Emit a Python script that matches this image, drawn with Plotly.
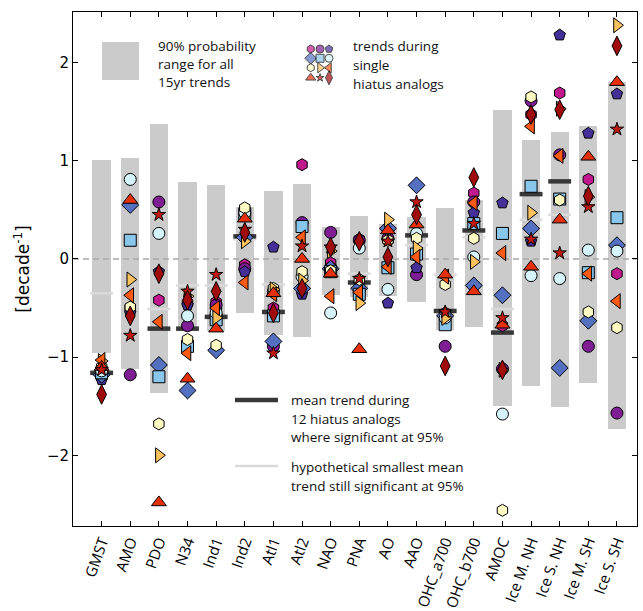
import plotly.graph_objects as go

categories = ["GMST", "AMO", "PDO", "N34", "Ind1", "Ind2", "Atl1", "Atl2", "NAO", "PNA",
              "AO", "AAO", "OHC_a700", "OHC_b700", "AMOC", "Ice M. NH", "Ice S. NH",
              "Ice M. SH", "Ice S. SH"]

# 90% probability range of all 15yr trends
range_low = [-0.96, -1.12, -1.37, -0.73, -0.73, -0.55, -0.77, -0.80, -0.37, -0.39,
             -0.38, -0.44, -0.72, -0.69, -1.50, -1.29, -1.51, -1.26, -1.73]
range_high = [1.01, 1.03, 1.37, 0.78, 0.75, 0.53, 0.69, 0.76, 0.33, 0.44,
              0.36, 0.43, 0.52, 0.60, 1.52, 1.21, 1.29, 1.35, 1.80]

# mean trend during 12 hiatus analogs where significant
mean_sig = [-1.16, None, -0.71, -0.71, -0.59, 0.23, -0.54, None, None, -0.24,
            None, 0.24, -0.53, 0.29, -0.75, 0.66, 0.79, None, None]
# hypothetical smallest mean trend still significant
min_sig = [-0.35, None, -0.51, -0.27, -0.27, 0.20, -0.26, None, None, -0.15,
           None, 0.14, -0.16, 0.22, -0.51, 0.40, 0.45, None, None]

# trends during single hiatus analogs (one list per analog)
analog01 = [-1.15, -0.50, -0.42, -0.45, -0.44, -0.06, -0.50, 0.96, -0.04, 0.20,
            0.19, 0.03, -0.55, 0.67, -0.68, 1.47, 1.69, 0.81, -0.15]
analog02 = [-1.20, -1.18, 0.58, -0.68, -0.47, -0.10, -0.89, 0.37, 0.27, 0.19,
            0.21, -0.16, -0.89, 0.58, -1.12, 1.61, 1.06, -0.89, -1.57]
analog03 = [-1.23, -0.55, -0.13, -0.47, -0.52, -0.13, 0.12, -0.36, -0.08, -0.25,
            -0.45, -0.09, -0.56, 0.47, 0.57, 0.18, 2.28, 1.28, 1.68]
analog04 = [-1.18, 0.55, -1.08, -1.34, -0.93, 0.22, -0.84, -0.30, -0.10, -0.30,
            0.31, 0.75, -0.58, -0.27, -0.37, 0.31, -1.11, -0.63, 0.14]
analog05 = [-1.16, 0.19, -1.20, -0.89, -0.62, 0.46, -0.58, 0.33, -0.13, -0.36,
            -0.09, 0.05, -0.67, 0.36, 0.26, 0.74, 0.61, -0.14, 0.42]
analog06 = [-1.14, 0.81, 0.26, -0.58, -0.55, 0.47, -0.33, -0.18, -0.55, 0.11,
            -0.31, 0.26, -0.60, 0.02, -1.58, -0.17, -0.20, 0.09, 0.08]
analog07 = [-1.10, -0.49, -1.68, -0.82, -0.88, 0.52, -0.30, -0.13, -0.12, -0.21,
            0.19, 0.21, -0.26, 0.21, -2.56, 1.65, 0.60, -0.54, -0.70]
analog08 = [-1.04, -0.21, -2.00, -0.38, -0.60, 0.18, -0.31, -0.22, 0.08, -0.45,
            0.40, 0.11, -0.60, -0.03, -1.13, 0.47, 1.53, 0.63, 2.38]
analog09 = [-1.03, -0.37, -0.64, -0.96, -0.50, -0.24, -0.36, 0.22, -0.38, -0.34,
            -0.08, 0.02, -0.18, 0.57, 0.06, 1.35, 1.05, -0.15, -0.43]
analog10 = [-1.10, 0.60, -2.48, -1.22, -0.71, 0.41, -0.35, 0.00, -0.15, -0.92,
            0.29, 0.35, -0.16, -0.33, -0.67, -0.08, 0.40, 1.04, 1.80]
analog11 = [-1.13, -0.78, 0.45, -0.33, -0.16, 0.30, -0.96, 0.13, 0.12, -0.20,
            0.18, 0.58, -0.54, 0.36, -0.60, 0.20, 0.06, 0.53, 1.32]
analog12 = [-1.38, -0.58, -0.15, -0.42, -0.33, 0.27, -0.55, -0.30, 0.12, 0.18,
            0.02, 0.45, -1.09, 0.83, -1.13, 1.47, 1.52, 0.64, 2.17]

analogs = [analog01, analog02, analog03, analog04, analog05, analog06,
           analog07, analog08, analog09, analog10, analog11, analog12]
symbols = ["hexagon", "circle", "pentagon", "diamond", "square", "circle",
           "hexagon", "triangle-right", "triangle-left", "triangle-up", "star", "diamond-tall"]
colors = ["#c2188f", "#7f1d95", "#45309a", "#5470c0", "#88c6ec", "#d5f3fa",
          "#fffac2", "#fdc25e", "#ff5a14", "#e6300c", "#bf1a10", "#a00c0c"]
sizes = [12, 12, 12, 13, 12, 12, 12, 13, 13, 13, 10, 14]

xr = [-1.0, 18.7]
yr = [-2.72, 2.515]
idx = list(range(len(categories)))

fig = go.Figure()

# probability ranges
fig.add_trace(go.Bar(x=idx, y=[h - l for h, l in zip(range_high, range_low)], base=range_low,
                     width=0.64, marker=dict(color="#cbcbcb", line=dict(width=0)),
                     hoverinfo="skip", showlegend=False))

# zero line
fig.add_trace(go.Scatter(x=xr, y=[0, 0], mode="lines",
                         line=dict(color="#a8a8a8", width=1.5, dash="6px,4px"),
                         hoverinfo="skip", showlegend=False))

def bar_segments(vals, half=0.4):
    xs, ys = [], []
    for i, v in enumerate(vals):
        if v is None:
            continue
        xs += [i - half, i + half, None]
        ys += [v, v, None]
    return xs, ys

lx, ly = bar_segments(min_sig)
fig.add_trace(go.Scatter(x=lx, y=ly, mode="lines", line=dict(color="#dadada", width=2.5),
                         hoverinfo="skip", showlegend=False))
mx, my = bar_segments(mean_sig)
fig.add_trace(go.Scatter(x=mx, y=my, mode="lines", line=dict(color="#383838", width=4.5),
                         hoverinfo="skip", showlegend=False))

for vals, sym, col, sz in zip(analogs, symbols, colors, sizes):
    fig.add_trace(go.Scatter(x=idx, y=vals, mode="markers",
                             marker=dict(symbol=sym, color=col, size=sz,
                                         line=dict(color="black", width=1)),
                             showlegend=False))

# ---- legend (drawn on an overlay axis in plot-area fractions) ----
leg_cols = [0.4215, 0.438, 0.4539]
leg_rows = [0.928, 0.910, 0.8916, 0.872]
lgx, lgy = [], []
for k in range(12):
    lgx.append(leg_cols[k % 3])
    lgy.append(leg_rows[k // 3])
fig.add_trace(go.Scatter(x=lgx, y=lgy, mode="markers", xaxis="x2", yaxis="y2",
                         marker=dict(symbol=symbols, color=colors, size=[s - 4 for s in sizes],
                                     line=dict(color="black", width=1)),
                         hoverinfo="skip", showlegend=False))

shapes = [
    dict(type="rect", xref="paper", yref="paper", x0=0.0514, x1=0.117, y0=0.8677, y1=0.9416,
         fillcolor="#cbcbcb", line=dict(width=0)),
    dict(type="line", xref="paper", yref="paper", x0=0.2872, x1=0.3635, y0=0.2451, y1=0.2451,
         line=dict(color="#383838", width=4.5)),
    dict(type="line", xref="paper", yref="paper", x0=0.2872, x1=0.3635, y0=0.1167, y1=0.1167,
         line=dict(color="#dadada", width=2.5)),
]

legend_text = [
    (0.1466, 0.9348, "90% probability"), (0.1466, 0.8998, "range for all"),
    (0.1466, 0.8638, "15yr trends"),
    (0.4924, 0.9329, "trends during"), (0.4924, 0.8969, "single"),
    (0.4924, 0.8599, "hiatus analogs"),
    (0.3835, 0.2451, "mean trend during"), (0.3835, 0.2091, "12 hiatus analogs"),
    (0.3835, 0.1722, "where significant at 95%"),
    (0.3835, 0.1148, "hypothetical smallest mean"),
    (0.3835, 0.0778, "trend still significant at 95%"),
]
annotations = [dict(x=x, y=y, xref="paper", yref="paper", text=t, showarrow=False,
                    xanchor="left", yanchor="middle",
                    font=dict(family="Open Sans", size=13.5, color="#111111"))
               for x, y, t in legend_text]

fig.update_layout(
    width=643, height=611,
    margin=dict(l=73, r=6, t=12, b=85),
    paper_bgcolor="white", plot_bgcolor="white",
    shapes=shapes, annotations=annotations,
    bargap=0,
    xaxis=dict(range=xr, tickmode="array", tickvals=idx, ticktext=categories,
               tickangle=-70, ticks="inside", ticklen=5, tickcolor="black",
               showline=True, linecolor="black", linewidth=1, mirror="ticks",
               showgrid=False, zeroline=False, automargin=False,
               tickfont=dict(family="Open Sans", size=15, color="black")),
    yaxis=dict(range=yr, tickmode="array", tickvals=[-2, -1, 0, 1, 2],
               ticks="inside", ticklen=5, tickcolor="black",
               showline=True, linecolor="black", linewidth=1, mirror="ticks",
               showgrid=False, zeroline=False, automargin=False,
               tickfont=dict(family="DejaVu Sans", size=15, color="black"),
               title=dict(text="[decade<sup>-1</sup>]", standoff=12,
                          font=dict(family="DejaVu Sans", size=17, color="black"))),
    xaxis2=dict(range=[0, 1], overlaying="x", visible=False, fixedrange=True),
    yaxis2=dict(range=[0, 1], overlaying="y", visible=False, fixedrange=True),
)

fig.write_html("out.html")
